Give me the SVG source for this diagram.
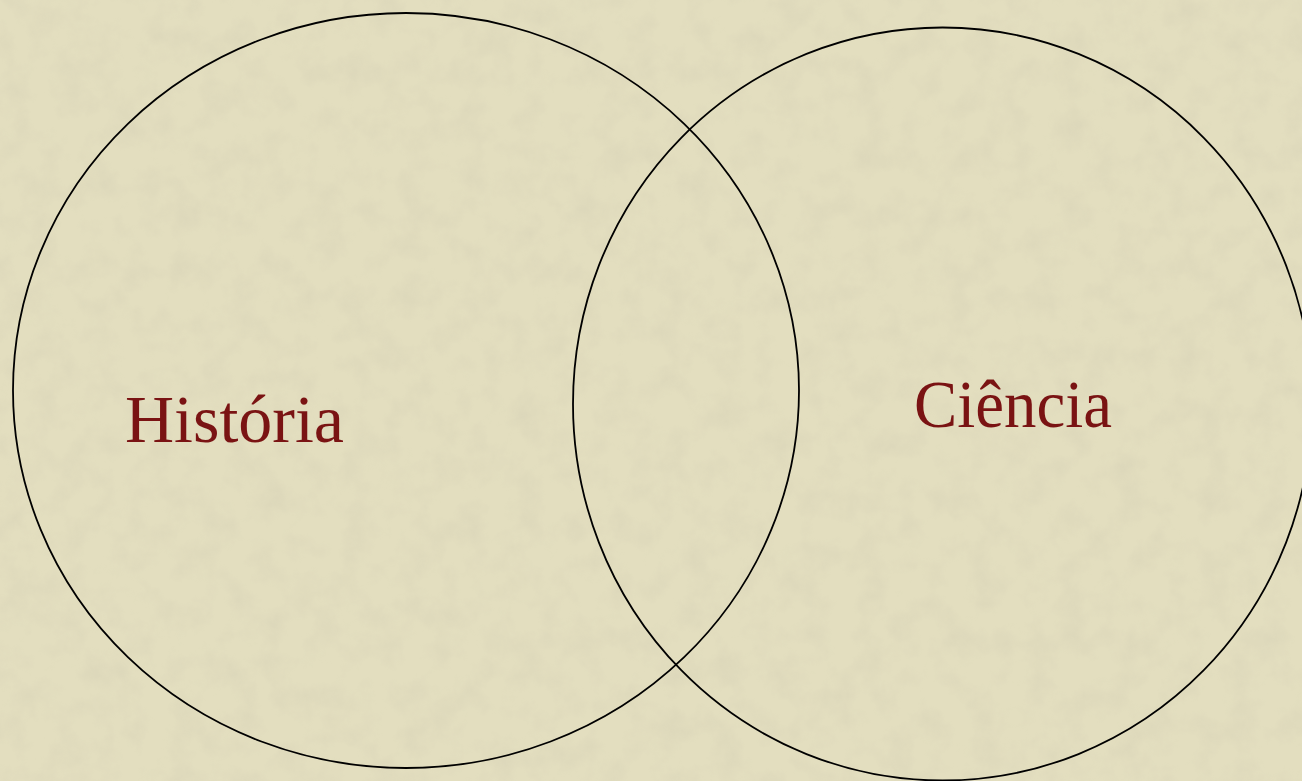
<svg xmlns="http://www.w3.org/2000/svg" width="1302" height="781" viewBox="0 0 1302 781">
  <defs>
    <style>
      .set { fill: none; stroke: #000; stroke-width: 1.8; }
      .label { font-family: "Liberation Serif", "DejaVu Serif", serif; font-size: 68px; fill: #7a1313; }
    </style>
    <filter id="paper" x="0" y="0" width="100%" height="100%">
      <feTurbulence type="fractalNoise" baseFrequency="0.035" numOctaves="4" seed="7" result="n"/>
      <feColorMatrix in="n" type="matrix" values="0 0 0 0 0.55  0 0 0 0 0.52  0 0 0 0 0.40  0 0 0 1.1 -0.45" />
    </filter>
  </defs>
  <rect id="background" x="0" y="0" width="1302" height="781" fill="#e3debf"/>
  <rect x="0" y="0" width="1302" height="781" filter="url(#paper)" opacity="0.35"/>
  <g id="historia">
    <ellipse class="set" cx="406" cy="390.5" rx="393" ry="377.5"/>
    <text class="label" x="125" y="442" textLength="219" lengthAdjust="spacingAndGlyphs">História</text>
  </g>
  <g id="ciencia">
    <ellipse class="set" cx="942.5" cy="404" rx="369.5" ry="376.5"/>
    <text class="label" x="914" y="427" textLength="198" lengthAdjust="spacingAndGlyphs">Ciência</text>
  </g>
  <g id="connectors"/>
</svg>
